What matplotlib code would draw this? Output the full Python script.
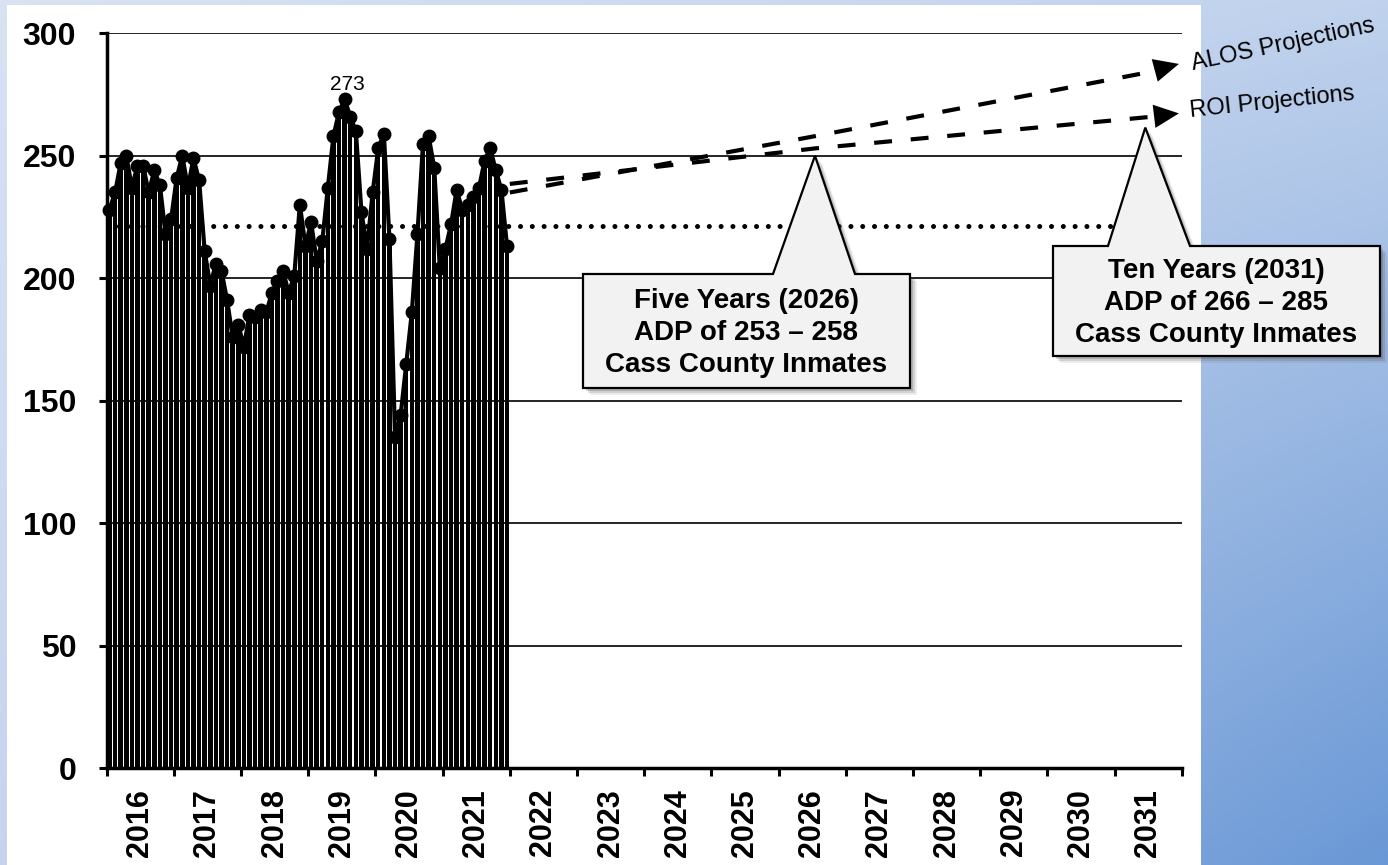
import numpy as np
import matplotlib
matplotlib.use("Agg")
import matplotlib.pyplot as plt
from matplotlib.patches import Rectangle, Polygon
from matplotlib.colors import LinearSegmentedColormap

plt.rcParams['font.family'] = ['Liberation Sans', 'DejaVu Sans']

W, H = 1388, 865

# ---- data (monthly ADP, Jan 2016 - Dec 2021) ----
years = list(range(2016, 2032))
adp_2016 = [228, 235, 247, 250, 237, 246, 246, 235, 244, 238, 218, 224]
adp_2017 = [241, 250, 237, 249, 240, 211, 197, 206, 203, 191, 176, 181]
adp_2018 = [172, 185, 184, 187, 186, 194, 199, 203, 194, 201, 230, 213]
adp_2019 = [223, 207, 215, 237, 258, 268, 273, 266, 260, 227, 212, 235]
adp_2020 = [253, 259, 216, 135, 144, 165, 186, 218, 255, 258, 245, 204]
adp_2021 = [212, 222, 236, 228, 230, 233, 237, 248, 253, 244, 236, 213]
adp = adp_2016 + adp_2017 + adp_2018 + adp_2019 + adp_2020 + adp_2021
avg_adp = 221.5

# projections (x in months from Jan 2016)
proj_x = [72, 126.5, 187.0, 191.5]
alos = [235, 258, 284.5, 287.5]
roi = [238.5, 253, 266.0, 267.3]

callout_5 = "Five Years (2026)\nADP of 253 \u2013 258\nCass County Inmates"
callout_10 = "Ten Years (2031)\nADP of 266 \u2013 285\nCass County Inmates"

fig = plt.figure(figsize=(W / 100, H / 100), dpi=100)

# background gradient + white panel
bg = fig.add_axes([0, 0, 1, 1], zorder=-10)
xx, yy = np.meshgrid(np.linspace(0, 1, 400), np.linspace(0, 1, 250))
t = 0.22 * xx + 0.18 * yy + 0.6 * xx * yy
cmap = LinearSegmentedColormap.from_list('bg', ['#D8E2F3', '#6A98D6'])
bg.imshow(t, cmap=cmap, aspect='auto', extent=[0, 1, 0, 1], origin='upper', vmin=0, vmax=1)
bg.add_patch(Rectangle((7 / W, 0), (1201 - 7) / W, (H - 5) / H, transform=bg.transAxes,
                       facecolor='white', edgecolor='none'))
bg.set_xlim(0, 1)
bg.set_ylim(0, 1)
bg.axis('off')

ax = fig.add_axes([106.7 / W, 97 / H, 1075 / W, 734.7 / H])
ax.set_facecolor('none')

months = np.arange(len(adp)) + 0.5
ax.bar(months, adp, width=0.8, color='black', zorder=2)
ax.plot(months, adp, color='black', lw=3, marker='o', ms=9, zorder=3, clip_on=False)

ax.axhline(avg_adp, color='black', lw=3.6, linestyle=(0, (0.01, 2.35)),
           dash_capstyle='round', zorder=4)

# peak label
ipk = int(np.argmax(adp))
ax.annotate(str(adp[ipk]), (months[ipk], adp[ipk]), xytext=(2, 11), textcoords='offset points',
            ha='center', va='center', fontsize=15)

# projection arrows
for vals in (alos, roi):
    ax.plot(proj_x[:-1], vals[:-1], color='black', lw=3, dashes=(4.3, 4.5), zorder=4,
            solid_capstyle='butt')
    ax.annotate('', xy=(proj_x[-1], vals[-1]), xytext=(proj_x[-2] - 0.5, vals[-2] - 0.05),
                arrowprops=dict(arrowstyle='-|>,head_length=0.9,head_width=0.42',
                                mutation_scale=20, color='black', lw=0, shrinkA=0, shrinkB=0),
                zorder=5)

ax.set_xlim(0, 192)
ax.set_ylim(0, 300)
ax.set_yticks(range(0, 301, 50))
ax.yaxis.grid(True, color='black', lw=1.2)
ax.set_axisbelow(True)

ax.set_xticks(np.arange(0, 193, 12))
ax.set_xticklabels([])
ax.set_xticks(np.arange(6, 192, 12), minor=True)
ax.set_xticklabels([str(y) for y in years], minor=True, rotation=90,
                   fontsize=22, fontweight='bold')
ax.tick_params(axis='x', which='major', length=6, width=2.2, direction='out')
ax.tick_params(axis='x', which='minor', length=0, pad=15)
ax.tick_params(axis='y', length=6, width=2.2, pad=16, labelsize=23)
for lab in ax.get_yticklabels():
    lab.set_fontweight('bold')

for s in ('top', 'right'):
    ax.spines[s].set_visible(False)
for s in ('left', 'bottom'):
    ax.spines[s].set_linewidth(2.5)
    ax.spines[s].set_zorder(6)


# callouts (pixel layout from top-left), pointer tip given in data units
def px(x, y):
    return (x / W, 1 - y / H)


def callout(box, base, tip_data, text):
    x0, y0, x1, y1 = box
    xa, xb = base
    tip_disp = ax.transData.transform(tip_data)
    tip = fig.transFigure.inverted().transform(tip_disp)
    verts = [px(x0, y0), px(xa, y0), tuple(tip), px(xb, y0), px(x1, y0), px(x1, y1), px(x0, y1)]
    for off, a in ((7, 0.10), (5, 0.18), (3, 0.25)):
        sh = [(vx + off / W, vy - off / H) for vx, vy in verts]
        fig.add_artist(Polygon(sh, closed=True, transform=fig.transFigure, facecolor='#555555',
                               edgecolor='none', alpha=a, zorder=7))
    fig.add_artist(Polygon(verts, closed=True, transform=fig.transFigure, facecolor='#F2F2F2',
                           edgecolor='black', lw=1.6, zorder=8))
    cx, cy = px((x0 + x1) / 2, (y0 + y1) / 2 + 2)
    fig.text(cx, cy, text, ha='center', va='center', fontsize=20, fontweight='bold',
             linespacing=1.28, zorder=9)


callout((583, 274, 910, 388), (773, 855), (126.5, 250), callout_5)
callout((1053, 246, 1380, 356), (1108, 1190), (185.5, 261.5), callout_10)

fig.text(*px(1283, 45), "ALOS Projections", ha='center', va='center', rotation=12,
         rotation_mode='anchor', fontsize=17)
fig.text(*px(1272, 102), "ROI Projections", ha='center', va='center', rotation=6,
         rotation_mode='anchor', fontsize=17)

fig.savefig('out.png', dpi=100)
